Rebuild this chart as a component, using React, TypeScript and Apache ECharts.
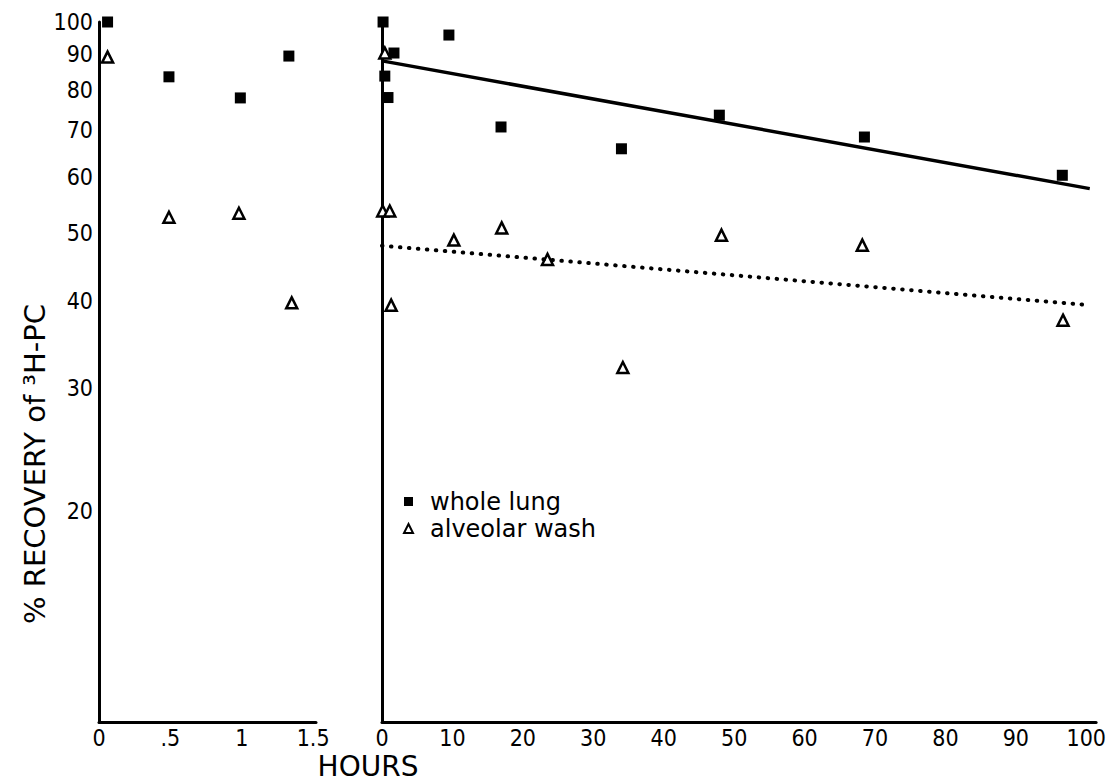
import React, { useEffect, useRef } from "react";
import * as echarts from "echarts";

// ---- data ----
const yTickLabels = [20, 30, 40, 50, 60, 70, 80, 90, 100];
const leftXTicks = [0, 0.5, 1, 1.5];
const leftXTickLabels = ["0", ".5", "1", "1.5"];
const rightXTicks = [0, 10, 20, 30, 40, 50, 60, 70, 80, 90, 100];

// left panel (hours 0-1.5)
const wholeLungEarly = [
  [0.06, 100],
  [0.49, 83.5],
  [0.99, 77.9],
  [1.33, 89.4],
];
const alveolarWashEarly = [
  [0.06, 89.1],
  [0.49, 52.6],
  [0.98, 53.3],
  [1.35, 39.7],
];

// right panel (hours 0-100)
const wholeLungLate = [
  [0.15, 100],
  [0.4, 83.7],
  [0.85, 78],
  [1.7, 90.3],
  [9.5, 95.8],
  [16.9, 70.8],
  [34, 65.9],
  [47.9, 73.6],
  [68.5, 68.5],
  [96.6, 60.4],
];
const alveolarWashLate = [
  [0.4, 90.3],
  [0.1, 53.7],
  [1.1, 53.7],
  [1.3, 39.4],
  [10.2, 48.8],
  [17, 50.8],
  [23.5, 45.8],
  [34.2, 32.1],
  [48.2, 49.6],
  [68.2, 48.0],
  [96.7, 37.5],
];

const wholeLungFit = [
  [0, 88],
  [100.5, 57.8],
];
const alveolarWashFit = [
  [0, 47.9],
  [100.5, 39.4],
];

const FONT = "'DejaVu Sans Condensed', 'DejaVu Sans', sans-serif";
const WIDE = "'DejaVu Sans', sans-serif";

export default function App() {
  const ref = useRef<HTMLDivElement>(null);

  useEffect(() => {
    if (!ref.current) return;
    const chart = echarts.init(ref.current, undefined, { renderer: "svg" });

    const axisLine = { show: true, lineStyle: { color: "#000", width: 3 } };
    const square = {
      type: "scatter",
      name: "whole lung",
      symbol: "rect",
      symbolSize: 11,
      itemStyle: { color: "#000", opacity: 1 },
    };
    const triangle = {
      type: "scatter",
      name: "alveolar wash",
      symbol: "triangle",
      symbolSize: 11,
      itemStyle: { color: "#fff", borderColor: "#000", borderWidth: 2.5, opacity: 1 },
    };
    const tickLabel = { color: "#000", fontSize: 23, fontFamily: FONT, margin: 4 };

    chart.setOption({
      animation: false,
      backgroundColor: "#fff",
      grid: [
        { left: 99, top: 22, width: 217, height: 700 },
        { left: 382, top: 22, width: 715, height: 700 },
      ],
      xAxis: [
        {
          gridIndex: 0,
          type: "value",
          min: 0,
          max: 1.52,
          axisLine,
          axisTick: { show: false },
          splitLine: { show: false },
          axisLabel: {
            ...tickLabel,
            customValues: leftXTicks,
            formatter: (v: number) => {
              const i = leftXTicks.findIndex((t) => Math.abs(t - v) < 1e-6);
              return i >= 0 ? leftXTickLabels[i] : "";
            },
          },
        },
        {
          gridIndex: 1,
          type: "value",
          min: 0,
          max: 101.4,
          axisLine,
          axisTick: { show: false },
          splitLine: { show: false },
          axisLabel: { ...tickLabel, customValues: rightXTicks },
        },
      ],
      yAxis: [
        {
          gridIndex: 0,
          type: "log",
          logBase: 10,
          min: 10,
          max: 100,
          axisLine,
          axisTick: { show: false },
          splitLine: { show: false },
          axisLabel: { show: false },
        },
        {
          gridIndex: 0,
          type: "value",
          min: 1,
          max: 2,
          position: "left",
          axisLine: { show: false },
          axisTick: { show: false },
          splitLine: { show: false },
          axisLabel: {
            ...tickLabel,
            margin: 6,
            customValues: yTickLabels.map((v) => Math.log10(v)),
            formatter: (v: number) => String(Math.round(Math.pow(10, v))),
          },
        },
        {
          gridIndex: 1,
          type: "log",
          logBase: 10,
          min: 10,
          max: 100,
          axisLine,
          axisTick: { show: false },
          splitLine: { show: false },
          axisLabel: { show: false },
        },
      ],
      legend: {
        data: ["whole lung", "alveolar wash"],
        orient: "vertical",
        left: 403,
        top: 488,
        padding: 0,
        itemWidth: 9,
        itemHeight: 9,
        itemGap: 0,
        textStyle: {
          fontSize: 24,
          lineHeight: 27,
          padding: [0, 0, 0, 12],
          fontFamily: WIDE,
          color: "#000",
        },
      },
      graphic: [
        {
          type: "text",
          x: 35,
          y: 464,
          rotation: Math.PI / 2,
          style: {
            text: "% RECOVERY of \u00b3H-PC",
            fontSize: 29,
            fontFamily: WIDE,
            fill: "#000",
            align: "center",
            verticalAlign: "middle",
          },
        },
        {
          type: "text",
          x: 368,
          y: 766,
          style: {
            text: "HOURS",
            fontSize: 28,
            fontFamily: WIDE,
            fill: "#000",
            align: "center",
            verticalAlign: "middle",
          },
        },
      ],
      series: [
        { ...square, xAxisIndex: 0, yAxisIndex: 0, data: wholeLungEarly },
        { ...triangle, xAxisIndex: 0, yAxisIndex: 0, data: alveolarWashEarly },
        { ...square, xAxisIndex: 1, yAxisIndex: 2, data: wholeLungLate },
        { ...triangle, xAxisIndex: 1, yAxisIndex: 2, data: alveolarWashLate },
        {
          type: "line",
          name: "whole lung fit",
          xAxisIndex: 1,
          yAxisIndex: 2,
          data: wholeLungFit,
          symbol: "none",
          silent: true,
          lineStyle: { color: "#000", width: 3.5 },
        },
        {
          type: "line",
          name: "alveolar wash fit",
          xAxisIndex: 1,
          yAxisIndex: 2,
          data: alveolarWashFit,
          symbol: "none",
          silent: true,
          lineStyle: { color: "#000", width: 4, type: [0.5, 8.5], cap: "round" },
        },
      ],
    });

    return () => chart.dispose();
  }, []);

  return (
    <div
      ref={ref}
      style={{ position: "fixed", left: 0, top: 0, width: 1109, height: 781 }}
    />
  );
}
